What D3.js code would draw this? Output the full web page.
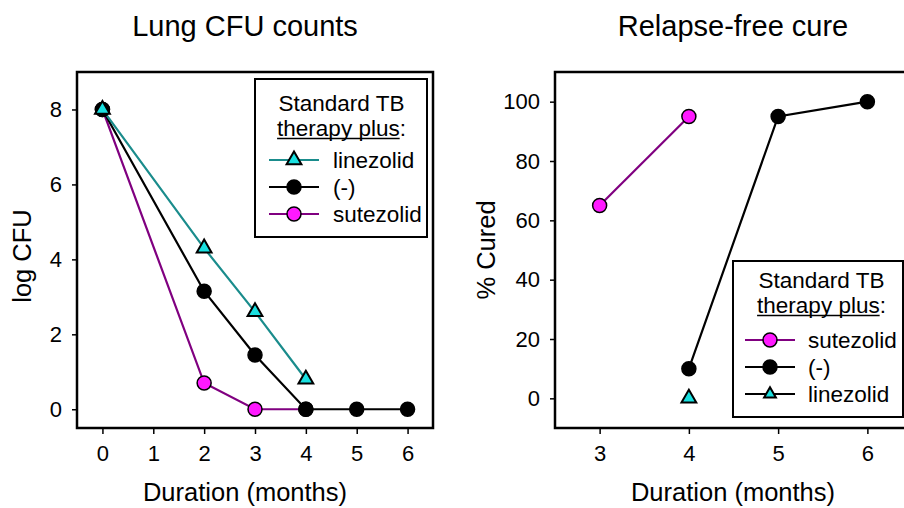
<!DOCTYPE html>
<html>
<head>
<meta charset="utf-8">
<script src="https://cdn.jsdelivr.net/npm/d3@7"></script>
<style>
    body { margin: 0; background: #fff; }
    svg { display: block; font-family: "Liberation Sans", Arial, sans-serif; }
</style>
</head>
<body>
<div id="chart"></div>
<script>
// lung CFU panel
const cfuTicksX = [0, 1, 2, 3, 4, 5, 6];
const cfuTicksY = [0, 2, 4, 6, 8];
const cfuMonthsLzd = [0, 2, 3, 4];
const cfuLzd = [8, 4.3, 2.6, 0.8];
const cfuMonthsStd = [0, 2, 3, 4, 5, 6];
const cfuStd = [8, 3.15, 1.45, 0, 0, 0];
const cfuMonthsSzd = [0, 2, 3, 4];
const cfuSzd = [8, 0.7, 0, 0];

// relapse-free cure panel
const cureTicksX = [3, 4, 5, 6];
const cureTicksY = [0, 20, 40, 60, 80, 100];
const cureMonthsSzd = [3, 4];
const cureSzd = [65, 95];
const cureMonthsStd = [4, 5, 6];
const cureStd = [10, 95, 100];
const cureMonthsLzd = [4];
const cureLzd = [0];

const legendTitle = ['Standard TB', 'therapy plus'];

const width = 904, height = 508;

const TEAL = '#1a8c8c', CYAN = '#19e0e0', PURPLE = '#800080', MAGENTA = '#ff19ff';

const svg = d3.select('#chart').append('svg')
    .attr('width', width)
    .attr('height', height)
    .attr('viewBox', [0, 0, width, height]);

function zip(xs, ys) {
    return xs.map((x, i) => ({x: x, y: ys[i]}));
}

function drawPanel(opts) {
    const x = d3.scaleLinear().domain(opts.xDomain).range([opts.left, opts.right]);
    const y = d3.scaleLinear().domain(opts.yDomain).range([opts.bottom, opts.top]);

    const g = svg.append('g');

    g.append('g')
        .attr('transform', `translate(0, ${opts.bottom})`)
        .call(d3.axisBottom(x).tickValues(opts.ticksX).tickFormat(d3.format('d')).tickSize(6).tickPadding(11))
        .call(a => a.select('.domain').remove())
        .call(a => a.selectAll('line').attr('stroke-width', 1.5))
        .call(a => a.selectAll('text').attr('font-size', 22).attr('fill', '#000'));

    g.append('g')
        .attr('transform', `translate(${opts.left}, 0)`)
        .call(d3.axisLeft(y).tickValues(opts.ticksY).tickFormat(d3.format('d')).tickSize(5).tickPadding(10))
        .call(a => a.select('.domain').remove())
        .call(a => a.selectAll('line').attr('stroke-width', 1.5))
        .call(a => a.selectAll('text').attr('font-size', 22).attr('fill', '#000'));

    g.append('rect')
        .attr('x', opts.left)
        .attr('y', opts.top)
        .attr('width', opts.right - opts.left)
        .attr('height', opts.bottom - opts.top)
        .attr('fill', 'none')
        .attr('stroke', '#000')
        .attr('stroke-width', 2.5);

    const line = d3.line().x(d => x(d.x)).y(d => y(d.y));

    for (let s of opts.series) {
        if (s.data.length > 1) {
            g.append('path')
                .datum(s.data)
                .attr('d', line)
                .attr('fill', 'none')
                .attr('stroke', s.stroke)
                .attr('stroke-width', 2.2);
        }
    }
    for (let s of opts.series) {
        _markers(g, s.data.map(d => [x(d.x), y(d.y)]), s.shape, s.fill, s.shape === 'tri' ? 95 : 7);
    }

    g.append('text')
        .attr('x', opts.titleX)
        .attr('y', 36)
        .attr('text-anchor', 'middle')
        .attr('font-size', 29)
        .text(opts.title);

    g.append('text')
        .attr('x', opts.titleX)
        .attr('y', 501)
        .attr('text-anchor', 'middle')
        .attr('font-size', 25.5)
        .text('Duration (months)');

    g.append('text')
        .attr('transform', `translate(${opts.yLabelX}, ${opts.yLabelY}) rotate(-90)`)
        .attr('text-anchor', 'middle')
        .attr('font-size', 25.5)
        .text(opts.yLabel);

    _legend(opts.legend);
}

function _markers(g, pts, shape, fill, size) {
    if (shape === 'tri') {
        g.append('g').selectAll('path')
            .data(pts)
            .join('path')
            .attr('transform', d => `translate(${d[0]}, ${d[1]})`)
            .attr('d', d3.symbol(d3.symbolTriangle, size))
            .attr('fill', fill)
            .attr('stroke', '#000')
            .attr('stroke-width', 2);
    } else {
        g.append('g').selectAll('circle')
            .data(pts)
            .join('circle')
            .attr('cx', d => d[0])
            .attr('cy', d => d[1])
            .attr('r', size)
            .attr('fill', fill)
            .attr('stroke', '#000')
            .attr('stroke-width', 1.5);
    }
}

function _legend(L) {
    const g = svg.append('g');
    g.append('rect')
        .attr('x', L.x0).attr('y', L.y0)
        .attr('width', L.x1 - L.x0).attr('height', L.y1 - L.y0)
        .attr('fill', '#fff')
        .attr('stroke', '#000')
        .attr('stroke-width', 2);

    g.append('text')
        .attr('x', L.titleX).attr('y', L.titleY)
        .attr('text-anchor', 'middle')
        .attr('font-size', 22.5)
        .text(legendTitle[0]);

    const t2 = g.append('text')
        .attr('x', L.titleX).attr('y', L.titleY + 25)
        .attr('text-anchor', 'middle')
        .attr('font-size', 22.5);
    const under = t2.append('tspan').text(legendTitle[1]);
    t2.append('tspan').text(':');
    const box = t2.node().getBBox();
    const uw = under.node().getComputedTextLength();
    g.append('line')
        .attr('x1', box.x).attr('x2', box.x + uw)
        .attr('y1', L.titleY + 28).attr('y2', L.titleY + 28)
        .attr('stroke', '#000')
        .attr('stroke-width', 1.5);

    L.rows.forEach((r, i) => {
        const yy = L.rowY + i * 27;
        g.append('line')
            .attr('x1', L.lineX).attr('x2', L.lineX + 50)
            .attr('y1', yy).attr('y2', yy)
            .attr('stroke', r.stroke)
            .attr('stroke-width', 2.2);
        _markers(g, [[L.lineX + 25, yy]], r.shape, r.fill, r.size);
        g.append('text')
            .attr('x', L.textX).attr('y', yy + 8)
            .attr('font-size', 22.5)
            .text(r.label);
    });
}

drawPanel({
    xDomain: [-0.5, 6.5], yDomain: [-0.5, 9],
    left: 77, right: 433, top: 72, bottom: 428,
    ticksX: cfuTicksX, ticksY: cfuTicksY,
    title: 'Lung CFU counts', titleX: 245,
    yLabel: 'log CFU', yLabelX: 31, yLabelY: 256,
    series: [
        {data: zip(cfuMonthsSzd, cfuSzd), stroke: PURPLE, fill: MAGENTA, shape: 'circle'},
        {data: zip(cfuMonthsStd, cfuStd), stroke: '#000', fill: '#000', shape: 'circle'},
        {data: zip(cfuMonthsLzd, cfuLzd), stroke: TEAL, fill: CYAN, shape: 'tri'}
    ],
    legend: {
        x0: 255, x1: 427, y0: 79, y1: 237,
        titleX: 341.5, titleY: 110.5,
        rowY: 160, lineX: 269, textX: 333,
        rows: [
            {label: 'linezolid', stroke: TEAL, fill: CYAN, shape: 'tri', size: 95},
            {label: '(-)', stroke: '#000', fill: '#000', shape: 'circle', size: 7},
            {label: 'sutezolid', stroke: PURPLE, fill: MAGENTA, shape: 'circle', size: 7}
        ]
    }
});

drawPanel({
    xDomain: [2.5, 6.5], yDomain: [-10, 110],
    left: 555, right: 912, top: 72, bottom: 428,
    ticksX: cureTicksX, ticksY: cureTicksY,
    title: 'Relapse-free cure', titleX: 733,
    yLabel: '% Cured', yLabelX: 495, yLabelY: 250,
    series: [
        {data: zip(cureMonthsSzd, cureSzd), stroke: PURPLE, fill: MAGENTA, shape: 'circle'},
        {data: zip(cureMonthsStd, cureStd), stroke: '#000', fill: '#000', shape: 'circle'},
        {data: zip(cureMonthsLzd, cureLzd), stroke: TEAL, fill: CYAN, shape: 'tri'}
    ],
    legend: {
        x0: 733, x1: 903, y0: 261, y1: 417,
        titleX: 821.5, titleY: 287.5,
        rowY: 340, lineX: 745, textX: 808,
        rows: [
            {label: 'sutezolid', stroke: PURPLE, fill: MAGENTA, shape: 'circle', size: 7},
            {label: '(-)', stroke: '#000', fill: '#000', shape: 'circle', size: 7},
            {label: 'linezolid', stroke: '#000', fill: CYAN, shape: 'tri', size: 60}
        ]
    }
});
</script>
</body>
</html>
